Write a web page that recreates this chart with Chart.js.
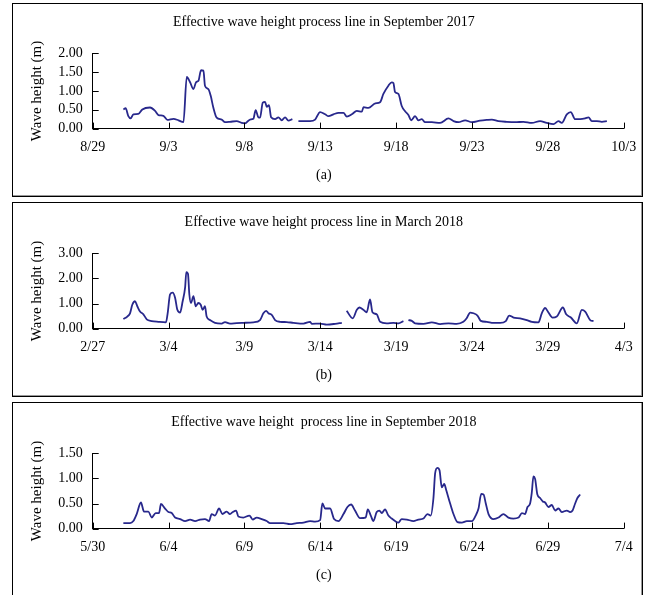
<!DOCTYPE html>
<html>
<head>
<meta charset="utf-8">
<script src="https://cdn.jsdelivr.net/npm/chart.js@4.4.1/dist/chart.umd.min.js"></script>
<style>
  body { margin: 0; background: #fff; overflow: hidden; }
  #wrap { position: relative; width: 653px; height: 595px; }
  canvas { position: absolute; left: 0; }
  .panel { position: absolute; left: 12px; width: 631px; box-sizing: border-box;
           border: 1px solid #000; box-shadow: inset -1px -1px 0 #999; pointer-events: none; }
</style>
</head>
<body>
<div id="wrap">
  <canvas id="chartA" width="653" height="200" style="top:0"></canvas>
  <canvas id="chartB" width="653" height="200" style="top:200px"></canvas>
  <canvas id="chartC" width="653" height="200" style="top:400px"></canvas>
  <div class="panel" style="top:3px;height:194px"></div>
  <div class="panel" style="top:202px;height:195px"></div>
  <div class="panel" style="top:402px;height:200px"></div>
</div>
<script>
// x values are days counted from the first tick label of each panel
const ticksA = ['8/29', '9/3', '9/8', '9/13', '9/18', '9/23', '9/28', '10/3'];
const daysA = [2.02, 2.17, 2.35, 2.50, 2.68, 3.01, 3.27, 3.78, 4.11, 4.33,
  4.66, 4.92, 5.32, 5.65, 5.98, 6.20, 6.42, 6.64, 6.81, 6.97,
  7.14, 7.30, 7.40, 7.62, 7.78, 7.95, 8.17, 8.50, 8.72, 9.05,
  9.49, 9.82, 10.04, 10.37, 10.59, 10.74, 10.92, 11.03, 11.21, 11.36,
  11.47, 11.62, 11.76, 12.02, 12.24, 12.46, 12.68, 12.90, 13.16, 13.35,
  13.56, 14.33, 14.66, 14.99, 15.32, 15.54, 15.87, 16.20, 16.53, 16.75,
  17.08, 17.41, 17.74, 17.85, 18.17, 18.63, 18.94, 19.16, 19.49, 19.71,
  19.82, 19.93, 20.15, 20.37, 20.59, 20.81, 20.99, 21.25, 21.47, 21.69,
  21.91, 22.35, 22.90, 23.45, 23.78, 24.11, 24.55, 24.99, 25.53, 25.98,
  26.31, 26.74, 27.29, 27.85, 28.39, 28.94, 29.49, 29.93, 30.37, 30.70,
  30.92, 31.25, 31.51, 31.80, 32.13, 32.46, 32.68, 32.90, 33.23, 33.56,
  33.89];
const waveA = [0.51, 0.54, 0.33, 0.27, 0.38, 0.39, 0.51, 0.56, 0.47, 0.36,
  0.34, 0.23, 0.26, 0.22, 0.17, 1.37, 1.23, 1.05, 1.23, 1.27,
  1.55, 1.54, 1.14, 1.05, 0.87, 0.56, 0.29, 0.24, 0.17, 0.18,
  0.20, 0.15, 0.14, 0.24, 0.26, 0.49, 0.30, 0.29, 0.69, 0.71,
  0.58, 0.62, 0.30, 0.25, 0.30, 0.22, 0.30, 0.21, 0.25, null,
  0.20, 0.20, 0.24, 0.44, 0.38, 0.33, 0.38, 0.42, 0.42, 0.32,
  0.38, 0.47, 0.45, 0.57, 0.55, 0.67, 0.70, 0.92, 1.14, 1.23,
  1.21, 0.97, 0.92, 0.60, 0.46, 0.36, 0.22, 0.33, 0.22, 0.25,
  0.17, 0.17, 0.15, 0.27, 0.20, 0.17, 0.22, 0.17, 0.21, 0.23,
  0.24, 0.20, 0.18, 0.17, 0.18, 0.15, 0.20, 0.15, 0.12, 0.20,
  0.15, 0.38, 0.44, 0.25, 0.25, 0.27, 0.30, 0.20, 0.20, 0.18,
  0.20];

const ticksB = ['2/27', '3/4', '3/9', '3/14', '3/19', '3/24', '3/29', '4/3'];
const daysB = [2.02, 2.28, 2.46, 2.61, 2.79, 2.94, 3.12, 3.34, 3.56, 3.89,
  4.33, 4.83, 4.94, 5.10, 5.27, 5.43, 5.58, 5.76, 5.93, 6.09,
  6.17, 6.28, 6.37, 6.48, 6.64, 6.79, 6.96, 7.12, 7.25, 7.40,
  7.51, 7.73, 8.06, 8.50, 8.72, 9.05, 9.49, 9.93, 10.59, 11.03,
  11.25, 11.43, 11.58, 11.80, 12.02, 12.35, 12.79, 13.23, 13.89, 14.33,
  14.44, 14.99, 15.43, 15.98, 16.42, 16.58, 16.74, 17.14, 17.41, 17.58,
  17.84, 18.06, 18.28, 18.44, 18.72, 18.94, 19.38, 19.82, 20.15, 20.48,
  20.65, 20.81, 21.03, 21.25, 21.80, 22.35, 22.90, 23.45, 23.99, 24.43,
  24.65, 24.88, 25.10, 25.36, 25.58, 25.98, 26.41, 26.85, 27.23, 27.45,
  27.74, 28.17, 28.61, 28.94, 29.38, 29.60, 29.82, 30.04, 30.31, 30.59,
  30.99, 31.21, 31.52, 31.91, 32.24, 32.46, 32.79, 33.01];
const waveB = [0.38, 0.48, 0.61, 0.95, 1.09, 0.89, 0.68, 0.57, 0.37, 0.30,
  0.27, 0.25, 0.61, 1.36, 1.43, 1.23, 0.75, 0.64, 1.09, 1.63,
  2.25, 2.18, 1.36, 1.02, 1.29, 0.89, 1.02, 0.95, 0.75, 0.89,
  0.48, 0.34, 0.23, 0.20, 0.26, 0.20, 0.22, 0.23, 0.25, 0.34,
  0.61, 0.71, 0.61, 0.55, 0.34, 0.27, 0.26, 0.23, 0.20, 0.27,
  0.19, 0.20, 0.16, 0.19, 0.23, null, 0.71, 0.41, 0.75, 0.84,
  0.75, 0.65, 1.16, 0.65, 0.57, 0.27, 0.21, 0.23, 0.21, 0.30,
  null, 0.34, 0.31, 0.21, 0.19, 0.25, 0.18, 0.21, 0.19, 0.27,
  0.41, 0.64, 0.61, 0.52, 0.31, 0.27, 0.23, 0.23, 0.30, 0.52,
  0.44, 0.41, 0.34, 0.27, 0.25, 0.61, 0.82, 0.64, 0.44, 0.48,
  0.84, 0.57, 0.44, 0.21, 0.75, 0.68, 0.34, 0.30];

const ticksC = ['5/30', '6/4', '6/9', '6/14', '6/19', '6/24', '6/29', '7/4'];
const daysC = [2.02, 2.46, 2.68, 2.90, 3.18, 3.38, 3.67, 3.89, 4.15, 4.37,
  4.50, 4.77, 4.99, 5.21, 5.43, 5.76, 6.09, 6.42, 6.75, 7.08,
  7.40, 7.67, 7.84, 8.06, 8.33, 8.55, 8.83, 9.05, 9.23, 9.45,
  9.60, 9.93, 10.33, 10.55, 10.81, 11.14, 11.47, 11.69, 12.13, 12.57,
  13.01, 13.45, 13.89, 14.33, 14.66, 14.99, 15.14, 15.32, 15.65, 15.91,
  16.20, 16.53, 16.79, 17.03, 17.29, 17.62, 17.99, 18.13, 18.33, 18.50,
  18.72, 18.90, 19.05, 19.27, 19.49, 19.71, 19.93, 20.15, 20.37, 20.70,
  21.14, 21.47, 21.80, 22.06, 22.28, 22.46, 22.57, 22.72, 22.86, 23.01,
  23.17, 23.29, 23.56, 23.78, 24.04, 24.33, 24.66, 24.99, 25.29, 25.43,
  25.61, 25.76, 25.91, 26.09, 26.42, 26.75, 27.07, 27.40, 27.73, 28.07,
  28.29, 28.50, 28.66, 28.83, 28.94, 29.05, 29.16, 29.31, 29.49, 29.67,
  29.82, 30.04, 30.26, 30.48, 30.70, 30.92, 31.25, 31.47, 31.63, 31.80,
  31.95, 32.13];
const waveC = [0.11, 0.11, 0.15, 0.29, 0.52, 0.34, 0.34, 0.22, 0.31, 0.31,
  0.49, 0.40, 0.33, 0.31, 0.22, 0.19, 0.15, 0.18, 0.15, 0.18,
  0.19, 0.15, 0.29, 0.26, 0.40, 0.29, 0.34, 0.29, 0.33, 0.36,
  0.24, 0.22, 0.26, 0.18, 0.22, 0.19, 0.15, 0.11, 0.11, 0.11,
  0.09, 0.11, 0.12, 0.15, 0.14, 0.17, 0.50, 0.40, 0.40, 0.19,
  0.15, 0.29, 0.43, 0.48, 0.36, 0.21, 0.22, 0.38, 0.26, 0.15,
  0.33, 0.36, 0.31, 0.38, 0.26, 0.20, 0.15, 0.12, 0.19, 0.18,
  0.15, 0.18, 0.20, 0.29, 0.26, 0.61, 1.10, 1.21, 1.16, 0.82,
  0.89, 0.78, 0.50, 0.29, 0.13, 0.12, 0.15, 0.15, 0.29, 0.40,
  0.69, 0.68, 0.50, 0.29, 0.19, 0.22, 0.29, 0.22, 0.20, 0.22,
  0.31, 0.29, 0.43, 0.50, 0.71, 1.04, 0.99, 0.68, 0.61, 0.54,
  0.52, 0.43, 0.47, 0.36, 0.40, 0.33, 0.36, 0.33, 0.36, 0.50,
  0.61, 0.68];

const serif = "'Liberation Serif', 'Times New Roman', serif";

// tick marks pointing into the plot, like the original figure
const innerTicks = {
  id: 'innerTicks',
  afterDraw(chart) {
    const { ctx, chartArea, scales: { x, y } } = chart;
    ctx.save();
    ctx.strokeStyle = '#000';
    ctx.lineWidth = 1;
    ctx.beginPath();
    x.ticks.forEach((t) => {
      const px = Math.round(x.getPixelForValue(t.value)) + 0.5;
      ctx.moveTo(px, chartArea.bottom);
      ctx.lineTo(px, chartArea.bottom - 6);
    });
    y.ticks.forEach((t) => {
      const py = Math.round(y.getPixelForValue(t.value)) + 0.5;
      ctx.moveTo(chartArea.left, py);
      ctx.lineTo(chartArea.left + 6, py);
    });
    ctx.stroke();
    ctx.restore();
  }
};

const makeChart = (id, days, waves, tickLabels, yMax, yStep, title, sub) => {
  return new Chart(document.getElementById(id), {
    type: 'line',
    data: {
      datasets: [{
        data: days.map((d, i) => ({ x: d, y: waves[i] })),
        borderColor: '#28288c',
        borderWidth: 1.8,
        pointRadius: 0,
        fill: false,
        spanGaps: false,
        cubicInterpolationMode: 'monotone',
      }],
    },
    options: {
      responsive: false,
      animation: false,
      layout: { padding: { left: 24, right: 29.3, top: 14, bottom: 0 } },
      plugins: {
        legend: { display: false },
        tooltip: { enabled: false },
        title: {
          display: true,
          text: title,
          color: '#000',
          font: { family: serif, size: 14, weight: 'normal' },
          padding: { top: 0, bottom: 22.5 },
        },
        subtitle: {
          display: true,
          position: 'bottom',
          text: sub,
          color: '#000',
          font: { family: serif, size: 14, weight: 'normal' },
          padding: { top: 1.2, bottom: 16.6 },
        },
      },
      scales: {
        x: {
          type: 'linear',
          min: 0,
          max: 35,
          grid: { display: true, drawOnChartArea: false, drawTicks: false },
          border: { display: true, color: '#000', width: 1 },
          ticks: {
            stepSize: 5,
            padding: 10,
            color: '#000',
            maxRotation: 0,
            autoSkip: false,
            font: { family: serif, size: 14 },
            callback: (v) => tickLabels[v / 5],
          },
        },
        y: {
          min: 0,
          max: yMax,
          afterFit: (scale) => { scale.width = 68.7; },
          grid: { display: true, drawOnChartArea: false, drawTicks: false },
          border: { display: true, color: '#000', width: 1 },
          ticks: {
            stepSize: yStep,
            padding: 10,
            color: '#000',
            autoSkip: false,
            font: { family: serif, size: 14 },
            callback: (v) => v.toFixed(2),
          },
          title: {
            display: true,
            text: 'Wave height (m)',
            color: '#000',
            font: { family: serif, size: 15 },
          },
        },
      },
    },
    plugins: [innerTicks],
  });
};

makeChart('chartA', daysA, waveA, ticksA, 2, 0.5,
  'Effective wave height process line in September 2017', '(a)');
makeChart('chartB', daysB, waveB, ticksB, 3, 1,
  'Effective wave height process line in March 2018', '(b)');
makeChart('chartC', daysC, waveC, ticksC, 1.5, 0.5,
  'Effective wave height  process line in September 2018', '(c)');
</script>
</body>
</html>
